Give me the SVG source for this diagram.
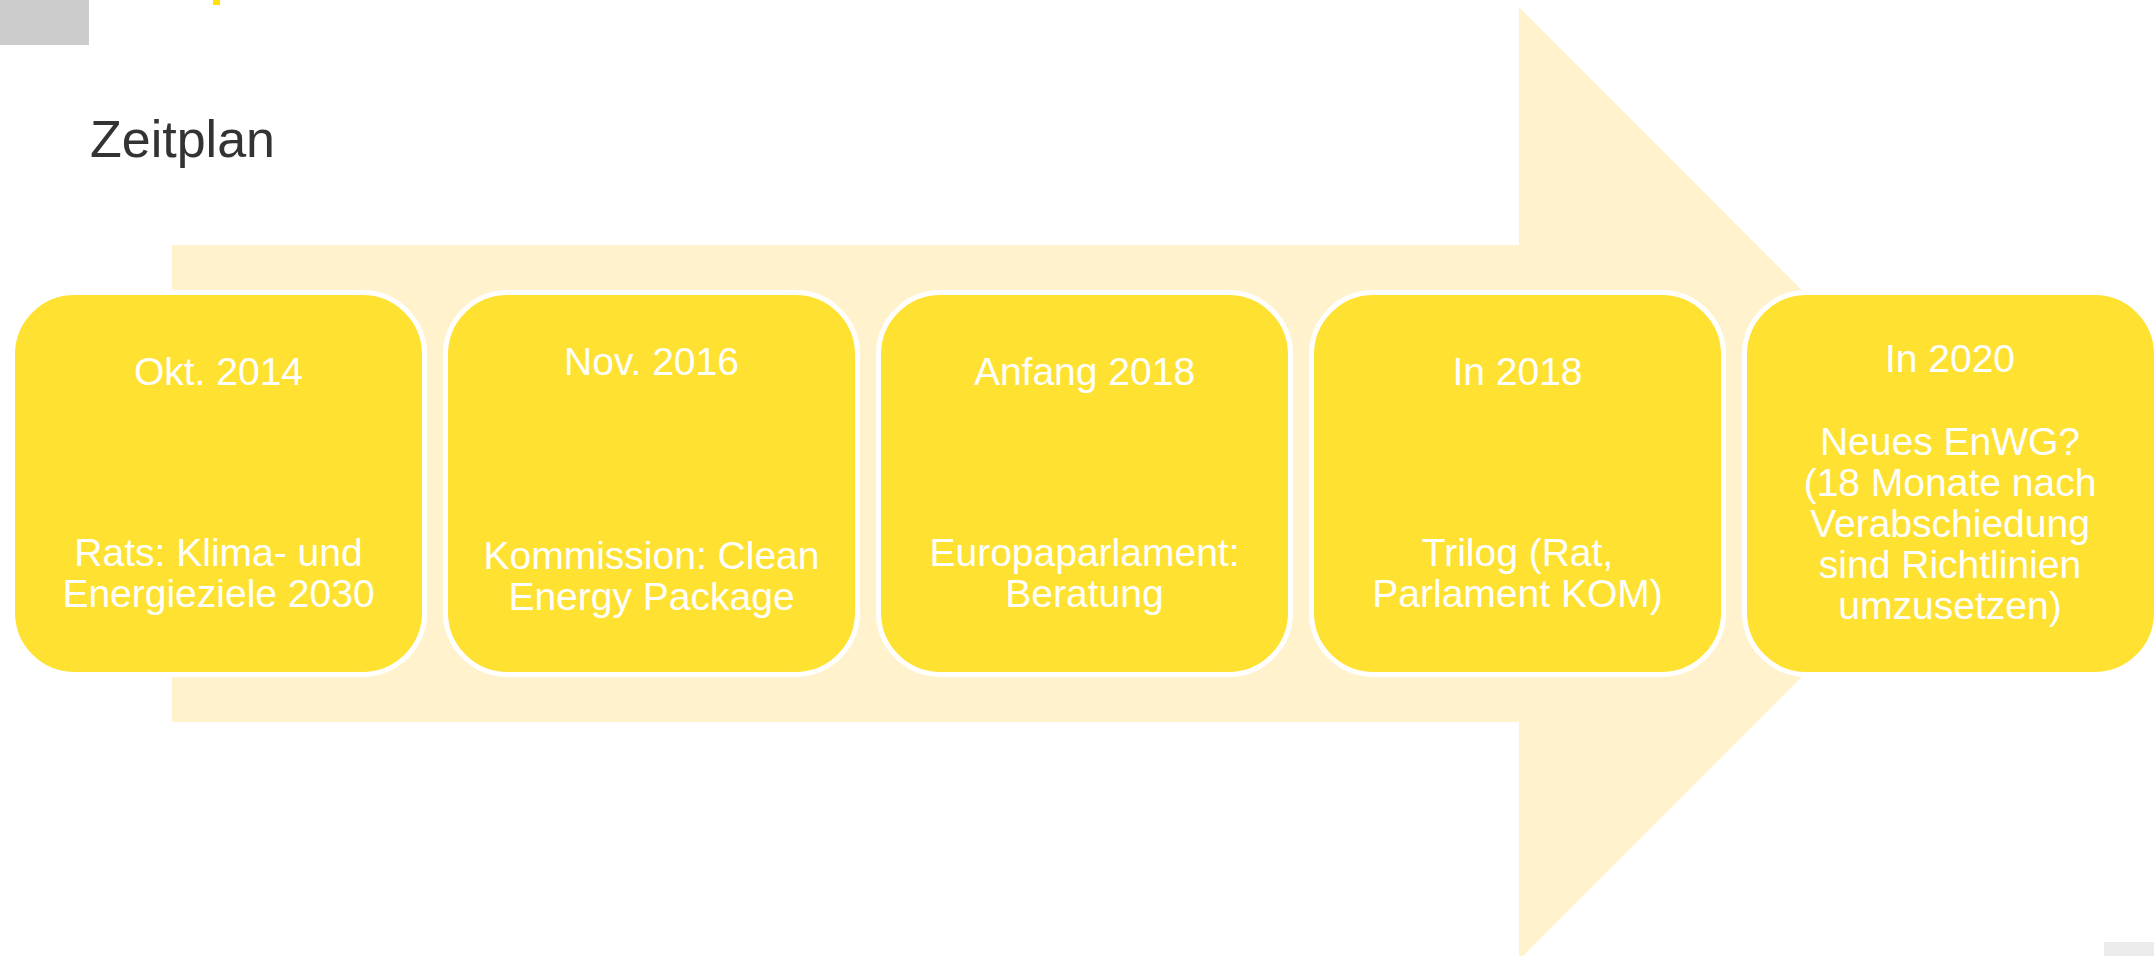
<svg xmlns="http://www.w3.org/2000/svg" width="2154" height="956" viewBox="0 0 2154 956">
<style>
.box{fill:#FFE132;stroke:#FFFFFF;stroke-width:5}
.t{font-family:"Liberation Sans",Arial,sans-serif;font-size:39px;fill:#FFFFFF;text-anchor:middle}
.title{font-family:"Liberation Sans",Arial,sans-serif;font-size:52px;fill:#333333}
</style>
<rect width="2154" height="956" fill="#FFFFFF"/>
<rect x="0" y="0" width="89" height="45" fill="#CCCCCC"/>
<rect x="213" y="0" width="7" height="5" fill="#FFE000"/>
<rect x="2104" y="942" width="50" height="14" fill="#EBEBEB"/>
<text class="title" x="90" y="157">Zeitplan</text>
<g id="arrow">
<polygon points="172,245 1519,245 1519,7 1995,483.5 1519,960 1519,722 172,722" fill="#FFF2CC"/>
</g>
<g id="connectors"></g>
<g id="node1">
<rect class="box" x="12.5" y="292.5" width="412" height="382" rx="62"/>
<text class="t" x="218.5" y="385">Okt. 2014</text>
<text class="t" x="218.5" y="566">Rats: Klima- und</text>
<text class="t" x="218.5" y="607">Energieziele 2030</text>
</g>
<g id="node2">
<rect class="box" x="445.5" y="292.5" width="412" height="382" rx="62"/>
<text class="t" x="651.5" y="375">Nov. 2016</text>
<text class="t" x="651.5" y="569">Kommission: Clean</text>
<text class="t" x="651.5" y="610">Energy Package</text>
</g>
<g id="node3">
<rect class="box" x="878.5" y="292.5" width="412" height="382" rx="62"/>
<text class="t" x="1084.5" y="385">Anfang 2018</text>
<text class="t" x="1084.5" y="566">Europaparlament:</text>
<text class="t" x="1084.5" y="607">Beratung</text>
</g>
<g id="node4">
<rect class="box" x="1311.5" y="292.5" width="412" height="382" rx="62"/>
<text class="t" x="1517.5" y="385">In 2018</text>
<text class="t" x="1517.5" y="566">Trilog (Rat,</text>
<text class="t" x="1517.5" y="607">Parlament KOM)</text>
</g>
<g id="node5">
<rect class="box" x="1744.5" y="292.5" width="412" height="382" rx="62"/>
<text class="t" x="1950" y="372">In 2020</text>
<text class="t" x="1950" y="455">Neues EnWG?</text>
<text class="t" x="1950" y="496">(18 Monate nach</text>
<text class="t" x="1950" y="537">Verabschiedung</text>
<text class="t" x="1950" y="578">sind Richtlinien</text>
<text class="t" x="1950" y="619">umzusetzen)</text>
</g>
</svg>
